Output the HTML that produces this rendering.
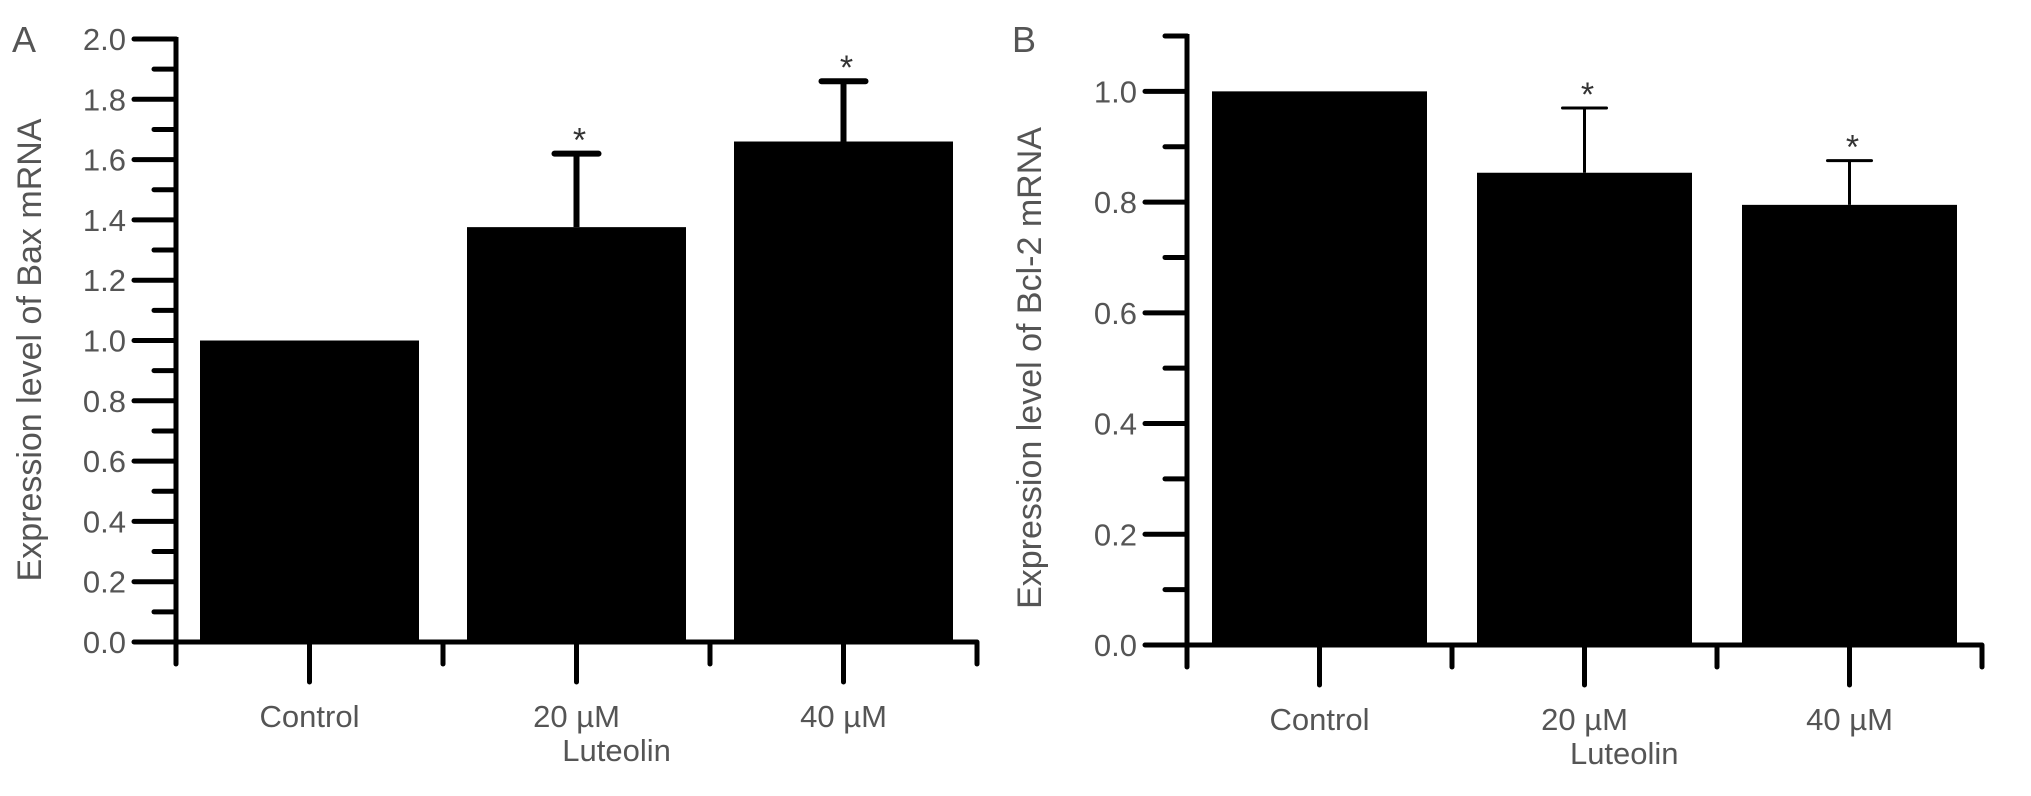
<!DOCTYPE html>
<html><head><meta charset="utf-8"><style>
html,body{margin:0;padding:0;background:#fff;}
svg{display:block;}
text{font-family:"Liberation Sans",sans-serif;fill:#555;}
</style></head><body>
<svg id="chart" width="2031" height="796" viewBox="0 0 2031 796"></svg>
<script>
const categories = ["Control", "20 \u00B5M", "40 \u00B5M"];
const baxValues = [1.0, 1.376, 1.66];
const baxErrTop = [null, 1.62, 1.86];
const baxSig = [false, true, true];
const baxTicks = ["0.0","0.2","0.4","0.6","0.8","1.0","1.2","1.4","1.6","1.8","2.0"];
const bclValues = [1.0, 0.853, 0.795];
const bclErrTop = [null, 0.97, 0.875];
const bclSig = [false, true, true];
const bclTicks = ["0.0","0.2","0.4","0.6","0.8","1.0"];

const NS = "http://www.w3.org/2000/svg";
const svg = document.getElementById('chart');
function mk(tag, attrs, parent){
  const e = document.createElementNS(NS, tag);
  for (const k in attrs) e.setAttribute(k, attrs[k]);
  (parent||svg).appendChild(e);
  return e;
}

function panel(cfg){
  const g = mk('g', {});
  
  
  const y = v => cfg.y0 - (v / cfg.ymax) * (cfg.y0 - cfg.yTop);
  const n = cfg.values.length;
  const xb = i => cfg.x0 + i * cfg.cw;
  const xc = i => cfg.x0 + (i + 0.5) * cfg.cw;

  cfg.values.forEach((v, i) => {
    const r = mk('rect', {x: xb(i) + cfg.pad, y: y(v), width: cfg.cw - 2*cfg.pad, height: cfg.y0 - y(v), fill: '#000'}, g);
    
    
  });
  cfg.err.forEach((e, i) => {
    if (e === null) return;
    const l = mk('line', {x1: xc(i), x2: xc(i), y1: y(cfg.values[i]), y2: y(e), stroke: '#000', 'stroke-width': cfg.ew}, g);
    
    
    const c = mk('line', {x1: xc(i) - 22, x2: xc(i) + 22, y1: y(e), y2: y(e), stroke: '#000', 'stroke-width': cfg.ew, 'stroke-linecap': 'round'}, g);
    
    
    if (cfg.sig[i]) {
      const s = mk('text', {x: xc(i) + 3, y: y(e) - 2, 'font-size': 34, 'text-anchor': 'middle', style: 'fill:#333'}, g);
      s.textContent = '*';
      
      
    }
  });
  const ya = mk('line', {x1: cfg.x0, x2: cfg.x0, y1: y(cfg.ymax) - 2, y2: cfg.y0 + 2, stroke: '#000', 'stroke-width': 5}, g);
  
  
  const steps = Math.round(cfg.ymax / cfg.minor);
  for (let k = 0; k <= steps; k++) {
    const v = k * cfg.minor;
    const major = k % cfg.majorEvery === 0;
    const t = mk('line', {x1: cfg.x0 - (major ? 42 : 22), x2: cfg.x0, y1: y(v), y2: y(v), stroke: '#000', 'stroke-width': 5, 'stroke-linecap': 'round'}, g);
    
    
  }
  cfg.ticks.forEach((lab, k) => {
    const t = mk('text', {x: cfg.x0 - 50, y: y(k * cfg.minor * cfg.majorEvery) + 11, 'font-size': 31, 'text-anchor': 'end'}, g);
    t.textContent = lab;
    
    
  });
  const xa = mk('line', {x1: cfg.x0 - 42, x2: cfg.x0 + n*cfg.cw, y1: cfg.y0, y2: cfg.y0, stroke: '#000', 'stroke-width': 5}, g);
  
  
  for (let i = 0; i <= n; i++) {
    const t = mk('line', {x1: xb(i), x2: xb(i), y1: cfg.y0, y2: cfg.y0 + 22, stroke: '#000', 'stroke-width': 5, 'stroke-linecap': 'round'}, g);
    
    
  }
  categories.forEach((c, i) => {
    const t = mk('line', {x1: xc(i), x2: xc(i), y1: cfg.y0, y2: cfg.y0 + 40, stroke: '#000', 'stroke-width': 5, 'stroke-linecap': 'round'}, g);
    
    
    const l = mk('text', {x: xc(i), y: cfg.y0 + 85, 'font-size': 31, 'text-anchor': 'middle'}, g);
    l.textContent = c;
    
    
  });
  const xt = mk('text', {x: cfg.x0 + 1.65*cfg.cw, y: cfg.y0 + 119, 'font-size': 31, 'text-anchor': 'middle'}, g);
  xt.textContent = 'Luteolin';
  
  
  const yt = mk('text', {x: 0, y: 0, 'font-size': 34, 'text-anchor': 'middle', transform: 'translate(' + cfg.ylx + ',' + cfg.yly + ') rotate(-90)'}, g);
  yt.textContent = cfg.ylabel;
  
  
  const pl = mk('text', {x: cfg.plx, y: 52, 'font-size': 36}, g);
  pl.textContent = cfg.letter;
  
  
}

panel({name:'panel-a-bax', x0:176, cw:267, pad:24, y0:642, yTop:39, ymax:2.0, minor:0.1, majorEvery:2,
  values:baxValues, err:baxErrTop, sig:baxSig, ticks:baxTicks, ew:6,
  ylabel:'Expression level of Bax mRNA', ylx:41, yly:350, letter:'A', plx:12});
panel({name:'panel-b-bcl2', x0:1187, cw:265, pad:25, y0:645, yTop:36, ymax:1.1, minor:0.1, majorEvery:2,
  values:bclValues, err:bclErrTop, sig:bclSig, ticks:bclTicks, ew:3,
  ylabel:'Expression level of Bcl-2 mRNA', ylx:1041, yly:368, letter:'B', plx:1012});
</script>
</body></html>
